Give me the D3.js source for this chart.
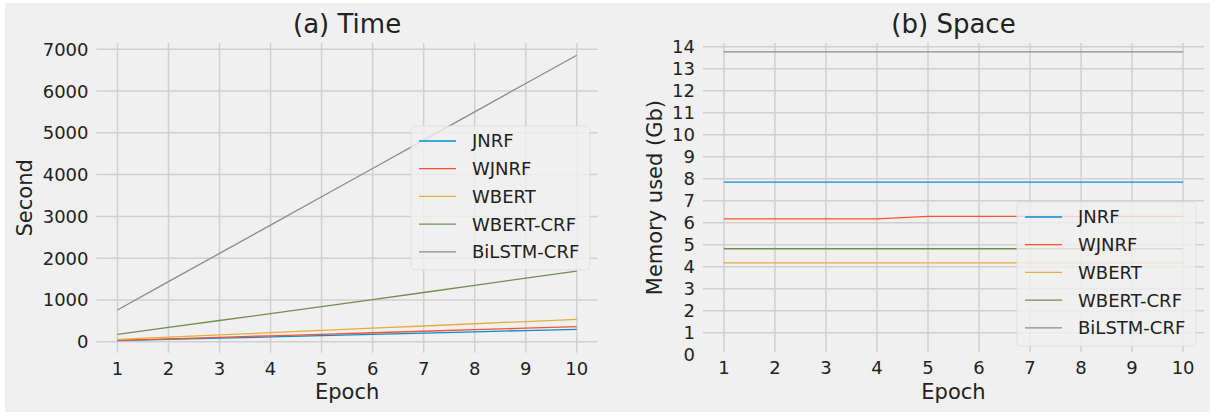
<!DOCTYPE html>
<html>
<head>
<meta charset="utf-8">
<script src="https://cdn.jsdelivr.net/npm/d3@7"></script>
<style>
body { margin:0; background:#fff; }
svg text { font-family: "DejaVu Sans", sans-serif; fill:#222; }
</style>
</head>
<body>
<svg id="chart" width="1215" height="415"></svg>
<script>
var epochs = [1,2,3,4,5,6,7,8,9,10];
var seriesNames = ["JNRF","WJNRF","WBERT","WBERT-CRF","BiLSTM-CRF"];
var colors = ["#008fd5","#fc4f30","#e5ae38","#6d904f","#8b8b8b"];

// (a) seconds per run
var timeJNRF = [24,54,84,115,145,176,206,236,267,297];
var timeWJNRF = [34,70,106,142,178,215,251,287,323,359];
var timeWBERT = [57,110,163,217,270,323,376,430,483,536];
var timeWBERTCRF = [177,342,508,673,840,1008,1178,1350,1520,1692];
var timeBiLSTM = [759,1437,2114,2792,3470,4147,4825,5502,6180,6857];

// (b) memory in Gb
var memJNRF = [7.85,7.85,7.85,7.85,7.85,7.85,7.85,7.85,7.85,7.85];
var memWJNRF = [6.18,6.18,6.18,6.18,6.29,6.29,6.29,6.29,6.29,6.29];
var memWBERT = [4.18,4.18,4.18,4.18,4.18,4.18,4.18,4.18,4.18,4.18];
var memWBERTCRF = [4.82,4.82,4.82,4.82,4.82,4.82,4.82,4.82,4.82,4.82];
var memBiLSTM = [13.77,13.77,13.77,13.77,13.77,13.77,13.77,13.77,13.77,13.77];

var timeTicks = [0,1000,2000,3000,4000,5000,6000,7000];
var memTicks = [0,1,2,3,4,5,6,7,8,9,10,11,12,13,14];

var svg = d3.select("#chart");
svg.append("rect").attr("x",5).attr("y",3).attr("width",1205).attr("height",409).attr("fill","#f0f0f0");

function panel(opt) {
    var x = d3.scaleLinear().domain([0.59,10.41]).range([opt.left, opt.right]);
    var y = d3.scaleLinear().domain(opt.ydom).range([opt.bottom, opt.top]);
    var g = svg.append("g");

    // grid
    g.selectAll(".gx").data(epochs).enter().append("line")
    .attr("x1",function(d){return x(d);}).attr("x2",function(d){return x(d);})
    .attr("y1",opt.top).attr("y2",opt.bottom)
    .attr("stroke","#d0d0d0").attr("stroke-width",1.5);
    g.selectAll(".gy").data(opt.ticks.filter(function(t){return t>=opt.ydom[0] && t<=opt.ydom[1];})).enter().append("line")
    .attr("x1",opt.left).attr("x2",opt.right)
    .attr("y1",function(d){return y(d);}).attr("y2",function(d){return y(d);})
    .attr("stroke","#d0d0d0").attr("stroke-width",1.5);

    // tick labels
    g.selectAll(".ty").data(opt.ticks).enter().append("text")
    .attr("x",opt.left-8).attr("y",function(d){return y(d);})
    .attr("dy","0.36em").attr("text-anchor","end").attr("font-size",18)
    .text(function(d){return d;});
    g.selectAll(".tx").data(epochs).enter().append("text")
    .attr("x",function(d){return x(d);}).attr("y",opt.bottom+22)
    .attr("text-anchor","middle").attr("font-size",18)
    .text(function(d){return d;});

    var line = d3.line().x(function(d,i){return x(epochs[i]);}).y(function(d){return y(d);});
    opt.series.forEach(function(s,k){
        g.append("path").datum(s)
        .attr("d",line).attr("fill","none")
        .attr("stroke",colors[k]).attr("stroke-width",1.3);
    });

    var cx = (opt.left+opt.right)/2;
    g.append("text").attr("x",cx).attr("y",33).attr("text-anchor","middle")
    .attr("font-size",26).text(opt.title);
    g.append("text").attr("x",cx).attr("y",399).attr("text-anchor","middle")
    .attr("font-size",21).text("Epoch");
    var cy = (opt.top+opt.bottom)/2;
    g.append("text").attr("transform","translate(" + opt.ylabX + "," + cy + ") rotate(-90)")
    .attr("text-anchor","middle").attr("dy","0.35em").attr("font-size",21).text(opt.ylabel);

    // legend
    var lg = g.append("g").attr("transform","translate(" + opt.legX + "," + opt.legY + ")");
    lg.append("rect").attr("width",179).attr("height",144).attr("rx",4)
    .attr("fill","#f0f0f0").attr("fill-opacity",0.8)
    .attr("stroke","#dcdcdc").attr("stroke-opacity",0.8);
    seriesNames.forEach(function(n,k){
        var yy = 15 + k*27.7;
        lg.append("line").attr("x1",8).attr("x2",45).attr("y1",yy).attr("y2",yy)
        .attr("stroke",colors[k]).attr("stroke-width",1.3);
        lg.append("text").attr("x",61).attr("y",yy).attr("dy","0.36em")
        .attr("font-size",18).text(n);
    });
}

panel({
    left:96.5, right:597.7, top:43, bottom:352.7, ydom:[-263,7150],
    ticks:timeTicks, title:"(a) Time", ylabel:"Second", ylabX:25,
    series:[timeJNRF,timeWJNRF,timeWBERT,timeWBERTCRF,timeBiLSTM],
    legX:411, legY:126
});

panel({
    left:703, right:1204, top:43, bottom:352.2, ydom:[0.12,14.17],
    ticks:memTicks, title:"(b) Space", ylabel:"Memory used (Gb)", ylabX:655,
    series:[memJNRF,memWJNRF,memWBERT,memWBERTCRF,memBiLSTM],
    legX:1017, legY:202
});
</script>
</body>
</html>
